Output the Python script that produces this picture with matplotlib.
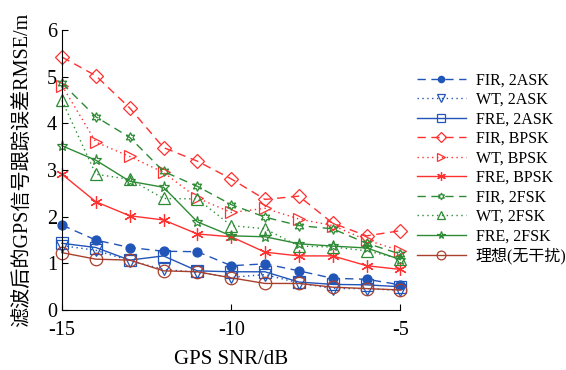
import numpy as np
import matplotlib
matplotlib.use('Agg')
import matplotlib.pyplot as plt

plt.rcParams['font.family'] = ['Liberation Serif', 'Noto Sans CJK SC']
plt.rcParams['axes.unicode_minus'] = False

snr = np.arange(-15, -4)

fir_2ask = [1.82, 1.50, 1.34, 1.26, 1.25, 0.95, 0.99, 0.84, 0.68, 0.66, 0.54]
wt_2ask = [1.38, 1.28, 1.06, 0.87, 0.81, 0.70, 0.76, 0.58, 0.46, 0.46, 0.42]
fre_2ask = [1.43, 1.34, 1.07, 1.16, 0.84, 0.82, 0.82, 0.60, 0.55, 0.54, 0.50]
fir_bpsk = [5.42, 5.02, 4.33, 3.48, 3.19, 2.81, 2.37, 2.44, 1.86, 1.59, 1.70]
wt_bpsk = [4.81, 3.60, 3.29, 2.95, 2.40, 2.09, 2.18, 1.95, 1.81, 1.50, 1.27]
fre_bpsk = [2.91, 2.32, 2.02, 1.93, 1.63, 1.57, 1.24, 1.16, 1.16, 0.95, 0.87]
fir_2fsk = [4.86, 4.14, 3.70, 2.97, 2.65, 2.26, 1.99, 1.81, 1.74, 1.43, 1.20]
wt_2fsk = [4.49, 2.91, 2.80, 2.39, 2.38, 1.81, 1.74, 1.37, 1.35, 1.27, 1.10]
fre_2fsk = [3.52, 3.21, 2.76, 2.63, 1.89, 1.59, 1.57, 1.42, 1.37, 1.33, 1.08]
ideal = [1.23, 1.09, 1.07, 0.84, 0.82, 0.69, 0.57, 0.57, 0.49, 0.46, 0.43]

labels = ['FIR, 2ASK', 'WT, 2ASK', 'FRE, 2ASK',
          'FIR, BPSK', 'WT, BPSK', 'FRE, BPSK',
          'FIR, 2FSK', 'WT, 2FSK', 'FRE, 2FSK', '理想(无干扰)']

blue = '#2255b8'
red = '#ff3030'
green = '#2e8b35'
brown = '#a8402c'
dash = (0, (6, 4))
dot = (0, (1, 2.5))

series = [
    (fir_2ask, blue, dash, 'o', True, 6.5),
    (wt_2ask, blue, dot, 'v', False, 8),
    (fre_2ask, blue, '-', 's', False, 8),
    (fir_bpsk, red, dash, 'D', False, 7.5),
    (wt_bpsk, red, dot, '>', False, 9),
    (fre_bpsk, red, '-', (6, 2, 0), False, 9),
    (fir_2fsk, green, dash, (6, 1, 0), False, 7),
    (wt_2fsk, green, dot, '^', False, 9),
    (fre_2fsk, green, '-', '*', False, 8),
    (ideal, brown, '-', 'o', False, 9),
]

fig = plt.figure(figsize=(5.66, 3.70), dpi=100)
ax = fig.add_axes([0.1095, 0.162, 0.598, 0.757])

for (vals, c, ls, m, filled, ms), lab in zip(series, labels):
    ax.plot(snr, vals, color=c, linestyle=ls, linewidth=1.0, marker=m,
            markersize=ms, markerfacecolor=c if filled else 'none',
            markeredgecolor=c, markeredgewidth=0.9, label=lab, clip_on=False)

ax.set_xlim(-15, -5)
ax.set_ylim(0, 6)
ax.set_xticks([-15, -10, -5])
ax.set_yticks(range(7))
ax.spines['top'].set_visible(False)
ax.spines['right'].set_visible(False)
ax.tick_params(direction='in', labelsize=14.5, length=4, width=0.8)
ax.tick_params(axis='x', pad=8)
ax.set_xlabel('GPS SNR/dB', fontsize=15, labelpad=7)
ax.set_ylabel('滤波后的GPS信号跟踪误差RMSE/m', fontsize=14.5, labelpad=10)

fig.legend(loc='upper left', bbox_to_anchor=(0.725, 0.822), frameon=False,
           fontsize=11.5, handlelength=3.1, handletextpad=0.6,
           labelspacing=0.22, borderaxespad=0, markerscale=0.7)

fig.savefig('out.png', dpi=100)
